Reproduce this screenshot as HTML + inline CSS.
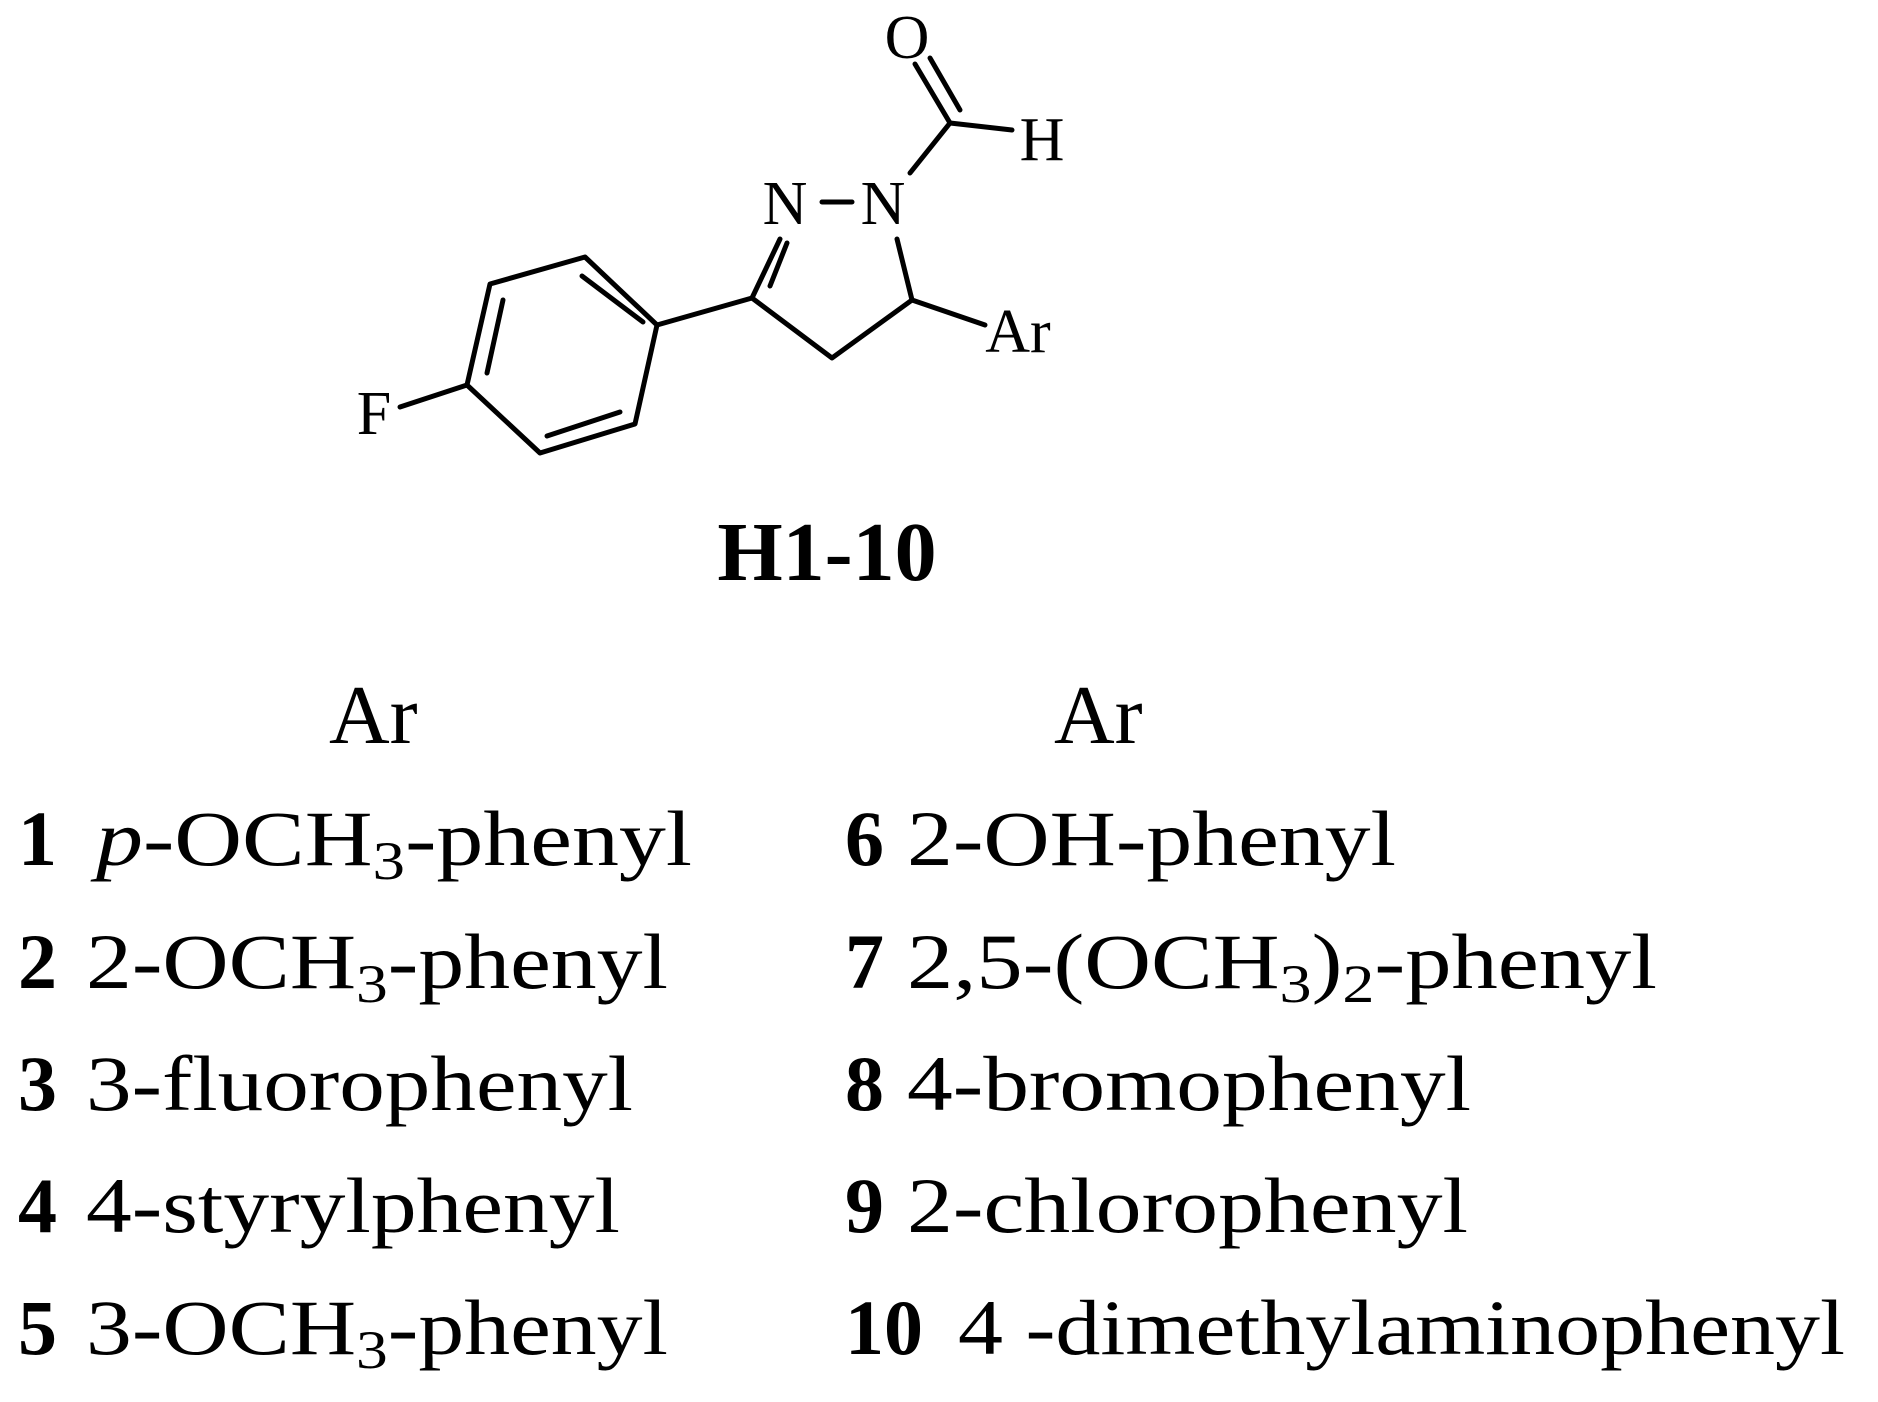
<!DOCTYPE html>
<html><head><meta charset="utf-8"><style>
html,body{margin:0;padding:0;background:#fff;}
svg{display:block;}
text{font-family:"Liberation Serif",serif;fill:#000;}
</style></head><body>
<svg width="1878" height="1402" viewBox="0 0 1878 1402" xmlns="http://www.w3.org/2000/svg">
<g stroke="#000" stroke-width="5" fill="none" stroke-linecap="round" stroke-linejoin="round">
<polygon points="585,257 490,284 467,385 540,453 635,424 657,325"/>
<line x1="582" y1="276" x2="643" y2="322"/>
<line x1="503" y1="300" x2="487" y2="373"/>
<line x1="547" y1="436" x2="620" y2="412"/>
<line x1="400" y1="407" x2="467" y2="385"/>
<line x1="657" y1="325" x2="752" y2="298"/>
<polyline points="780,239 752,298 832,358 912,300 897,239"/>
<line x1="770" y1="286" x2="787" y2="243"/>
<line x1="912" y1="300" x2="985" y2="325"/>
<line x1="822" y1="202" x2="852" y2="202"/>
<line x1="910" y1="173" x2="950" y2="123"/>
<line x1="950" y1="123" x2="1012" y2="130"/>
<line x1="950" y1="123" x2="915" y2="64"/>
<line x1="930" y1="58" x2="960" y2="110"/>
</g>
<g font-size="62" text-anchor="middle">
<text x="907" y="58">O</text>
<text x="1042" y="160">H</text>
<text x="785" y="224">N</text>
<text x="883" y="224">N</text>
<text x="1018" y="352">Ar</text>
<text x="374" y="434">F</text>
</g>
<text x="827" y="580" font-size="84" font-weight="bold" text-anchor="middle">H1-10</text>
<g font-size="78">
<text x="329" y="743" font-size="84">Ar</text>
<text x="1054" y="743" font-size="84">Ar</text>
<text x="18" y="865" font-weight="bold">1</text>
<text x="96" y="865" textLength="596" lengthAdjust="spacingAndGlyphs"><tspan font-style="italic">p</tspan>-OCH<tspan font-size="54" dy="14">3</tspan><tspan dy="-14">-phenyl</tspan></text>
<text x="18" y="988" font-weight="bold">2</text>
<text x="86" y="988" textLength="582" lengthAdjust="spacingAndGlyphs">2-OCH<tspan font-size="54" dy="14">3</tspan><tspan dy="-14">-phenyl</tspan></text>
<text x="18" y="1110" font-weight="bold">3</text>
<text x="86" y="1110" textLength="547" lengthAdjust="spacingAndGlyphs">3-fluorophenyl</text>
<text x="18" y="1232" font-weight="bold">4</text>
<text x="86" y="1232" textLength="534" lengthAdjust="spacingAndGlyphs">4-styrylphenyl</text>
<text x="18" y="1354" font-weight="bold">5</text>
<text x="86" y="1354" textLength="582" lengthAdjust="spacingAndGlyphs">3-OCH<tspan font-size="54" dy="14">3</tspan><tspan dy="-14">-phenyl</tspan></text>
<text x="845" y="865" font-weight="bold">6</text>
<text x="907" y="865" textLength="489" lengthAdjust="spacingAndGlyphs">2-OH-phenyl</text>
<text x="845" y="988" font-weight="bold">7</text>
<text x="907" y="988" textLength="750" lengthAdjust="spacingAndGlyphs">2,5-(OCH<tspan font-size="54" dy="14">3</tspan><tspan dy="-14">)</tspan><tspan font-size="54" dy="14">2</tspan><tspan dy="-14">-phenyl</tspan></text>
<text x="845" y="1110" font-weight="bold">8</text>
<text x="907" y="1110" textLength="564" lengthAdjust="spacingAndGlyphs">4-bromophenyl</text>
<text x="845" y="1232" font-weight="bold">9</text>
<text x="907" y="1232" textLength="561" lengthAdjust="spacingAndGlyphs">2-chlorophenyl</text>
<text x="845" y="1354" font-weight="bold">10</text>
<text x="958" y="1354" textLength="887" lengthAdjust="spacingAndGlyphs">4 -dimethylaminophenyl</text>
</g>
</svg>
</body></html>
